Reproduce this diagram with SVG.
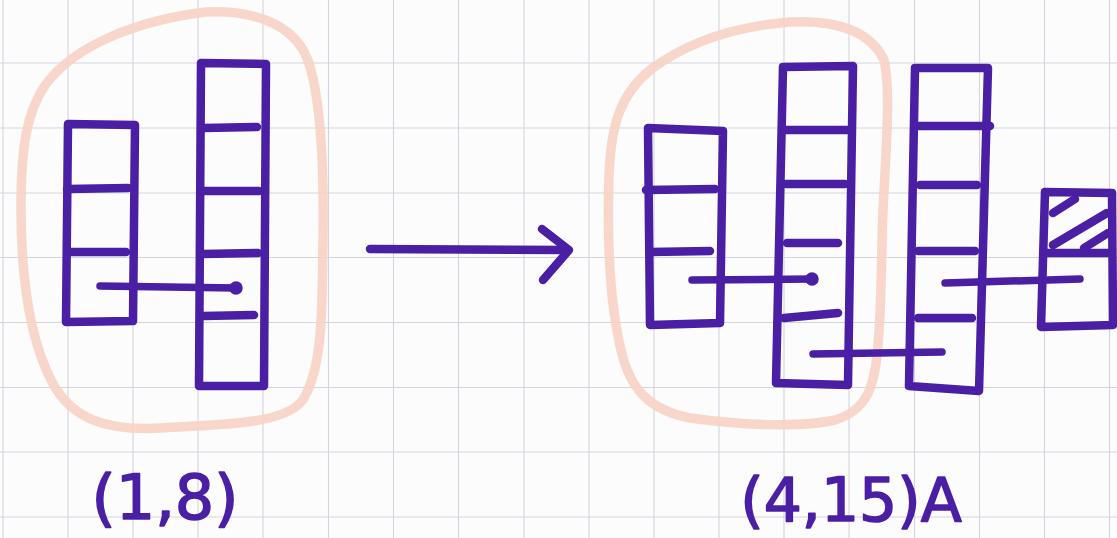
<svg xmlns="http://www.w3.org/2000/svg" width="1117" height="538" viewBox="0 0 1117 538">
  <defs>
    <style>
      .paper { fill: #fcfcfd; }
      .grid line { stroke: #d4d4df; stroke-width: 1.1; }
      .loop { fill: none; stroke: #f7d3c4; stroke-width: 9.5; stroke-linejoin: round; opacity: 0.9; }
      .ink { fill: none; stroke: #4a1fa3; stroke-width: 8.5; stroke-linecap: round; stroke-linejoin: round; }
      .link { fill: none; stroke: #4a1fa3; stroke-width: 7.5; stroke-linecap: round; }
      .label { font-family: "DejaVu Sans", "Liberation Sans", sans-serif; fill: #4a1fa3; stroke: #4a1fa3; stroke-width: 1.6; stroke-linejoin: round; text-anchor: middle; }
    </style>
    <marker id="dot" viewBox="-4 -4 8 8" markerWidth="2" markerHeight="2" markerUnits="strokeWidth" orient="auto">
      <circle cx="0" cy="0" r="3.6" fill="#4a1fa3"/>
    </marker>
  </defs>

  <!-- squared paper -->
  <rect class="paper" x="0" y="0" width="1117" height="538"/>
  <g class="grid">
    <line x1="3" y1="0" x2="3" y2="538"/>
    <line x1="68" y1="0" x2="68" y2="538"/>
    <line x1="133" y1="0" x2="133" y2="538"/>
    <line x1="198" y1="0" x2="198" y2="538"/>
    <line x1="263" y1="0" x2="263" y2="538"/>
    <line x1="328.5" y1="0" x2="328.5" y2="538"/>
    <line x1="393.5" y1="0" x2="393.5" y2="538"/>
    <line x1="458.5" y1="0" x2="458.5" y2="538"/>
    <line x1="524" y1="0" x2="524" y2="538"/>
    <line x1="589" y1="0" x2="589" y2="538"/>
    <line x1="654" y1="0" x2="654" y2="538"/>
    <line x1="719" y1="0" x2="719" y2="538"/>
    <line x1="784" y1="0" x2="784" y2="538"/>
    <line x1="849" y1="0" x2="849" y2="538"/>
    <line x1="914.5" y1="0" x2="914.5" y2="538"/>
    <line x1="979.5" y1="0" x2="979.5" y2="538"/>
    <line x1="1044.5" y1="0" x2="1044.5" y2="538"/>
    <line x1="1109.5" y1="0" x2="1109.5" y2="538"/>
    <line x1="0" y1="63" x2="1117" y2="63"/>
    <line x1="0" y1="128" x2="1117" y2="128"/>
    <line x1="0" y1="193" x2="1117" y2="193"/>
    <line x1="0" y1="257.5" x2="1117" y2="257.5"/>
    <line x1="0" y1="322.5" x2="1117" y2="322.5"/>
    <line x1="0" y1="387.5" x2="1117" y2="387.5"/>
    <line x1="0" y1="452" x2="1117" y2="452"/>
    <line x1="0" y1="517" x2="1117" y2="517"/>
  </g>

  <!-- highlighter loops around the grouped columns -->
  <g id="group-left">
    <path class="loop" d="M206 12 C250 10 292 22 307 58 C321 95 324 170 323 240 C322 310 323 365 304 398 C288 425 222 424 160 428 C108 431 72 420 52 382 C29 338 21 272 21 208 C21 150 26 112 46 84 C76 44 140 20 206 12 Z"/>
  </g>
  <g id="group-right">
    <path class="loop" d="M790 22 C835 20 870 30 884 60 C891 90 886 150 883 210 C881 260 882 300 878 345 C875 385 868 410 835 420 C800 428 740 425 690 418 C650 410 630 390 621 350 C609 300 607 240 609 175 C611 125 620 95 650 70 C690 40 740 26 790 22 Z"/>
  </g>

  <!-- left configuration -->
  <g id="col-left-short">
    <path class="ink" d="M68 124 L135 125 L133 321 L66 322 Z"/>
    <path class="ink" d="M67 189 L128 188"/>
    <path class="ink" d="M69 252 L126 252"/>
  </g>
  <g id="col-left-tall">
    <path class="ink" d="M201 63 L266 64 L264 386 L199 386 Z"/>
    <path class="ink" d="M203 128 L257 127"/>
    <path class="ink" d="M203 191 L259 191"/>
    <path class="ink" d="M203 254 L258 253"/>
    <path class="ink" d="M203 316 L254 315"/>
  </g>

  <!-- right configuration -->
  <g id="col-right-short">
    <path class="ink" d="M648 128 L723 131 L720 323 L650 325 Z"/>
    <path class="ink" d="M646 190 L715 189"/>
    <path class="ink" d="M650 252 L710 251"/>
  </g>
  <g id="col-right-tall-a">
    <path class="ink" d="M783 67 L853 66 L848 385 L776 383 Z"/>
    <path class="ink" d="M785 130 L847 130"/>
    <path class="ink" d="M786 184 L845 184"/>
    <path class="ink" d="M787 243 L838 243"/>
    <path class="ink" d="M784 318 L838 313"/>
  </g>
  <g id="col-right-tall-b">
    <path class="ink" d="M915 68 L988 68 L979 391 L909 386 Z"/>
    <path class="ink" d="M918 126 L990 126"/>
    <path class="ink" d="M920 185 L977 185"/>
    <path class="ink" d="M918 251 L975 251"/>
    <path class="ink" d="M918 318 L972 318"/>
  </g>
  <g id="col-right-new">
    <path class="ink" d="M1045 192 L1112 193 L1113 325 L1041 327 Z"/>
    <path class="ink" d="M1047 253 L1110 253"/>
    <path class="ink" d="M1053 213 L1075 199"/>
    <path class="ink" d="M1053 245 L1107 213"/>
    <path class="ink" d="M1084 248 L1108 233"/>
  </g>

  <!-- links between cells and the transition arrow -->
  <g id="connectors">
    <path class="link" d="M100 286 L236 288" marker-end="url(#dot)"/>
    <path class="link" d="M692 280 L812 279" marker-end="url(#dot)"/>
    <path class="link" d="M813 354 L942 352"/>
    <path class="link" d="M945 283 L1080 279"/>
    <path class="ink" d="M370 249 L568 250"/>
    <path class="ink" d="M542 229 L569 250 L543 280"/>
  </g>

  <!-- captions -->
  <g id="labels">
    <text class="label" x="165" y="519" font-size="62">(1,8)</text>
    <text class="label" x="851" y="521" font-size="60">(4,15)A</text>
  </g>
</svg>
